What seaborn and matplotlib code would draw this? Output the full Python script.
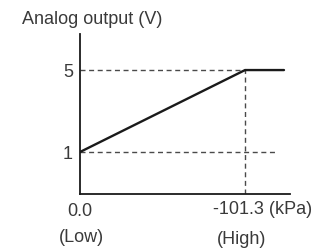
import matplotlib
matplotlib.use("Agg")
import matplotlib.pyplot as plt
import seaborn as sns
import pandas as pd

# valores
pressao_kpa = [0.0, 101.3, 125.2]      # eixo x (magnitude do vácuo)
saida_v = [1, 5, 5]                    # saída analógica
y_ticks = [1, 5]
y_tick_labels = ["1", "5"]
x_low, x_high = 0.0, 101.3
fim_ref_1v = 120.9                     # fim da linha tracejada de 1 V
x_lim = (0, 128.9)
y_lim = (-1.05, 6.76)

sns.set_style("white")
plt.rcParams["font.family"] = ["Liberation Sans", "DejaVu Sans"]
cor_texto = "#3a3a3a"
fs = 13

df = pd.DataFrame({"pressao": pressao_kpa, "saida": saida_v})

fig = plt.figure(figsize=(3.15, 2.52), dpi=100)
ax = fig.add_axes([80 / 315, 1 - 194 / 252, 210 / 315, 160 / 252])

# linhas tracejadas de referência
traco = dict(color="#4a4a4a", linewidth=1.0, linestyle=(0, (3.6, 2.6)))
ax.plot([x_low, x_high], [5, 5], **traco)
ax.plot([x_low, fim_ref_1v], [1, 1], **traco)
ax.plot([x_high, x_high], [y_lim[0], 5], **traco)

# curva característica
sns.lineplot(data=df, x="pressao", y="saida", color="#1a1a1a", linewidth=1.7, ax=ax)

ax.set_xlim(*x_lim)
ax.set_ylim(*y_lim)
for s in ["top", "right"]:
    ax.spines[s].set_visible(False)
for s in ["left", "bottom"]:
    ax.spines[s].set_linewidth(1.3)
    ax.spines[s].set_color("#1a1a1a")

ax.set_xlabel("")
ax.set_ylabel("")
ax.set_xticks([])
ax.set_yticks(y_ticks)
ax.set_yticklabels(y_tick_labels, fontsize=fs, color=cor_texto)
ax.tick_params(axis="y", length=0, pad=5)

# rótulos do eixo x
pos = dict(xycoords=("data", "axes fraction"), textcoords="offset pixels",
           fontsize=fs, color=cor_texto, va="center")
ax.annotate("0.0", xy=(x_low, 0), xytext=(0, -17), ha="center", **pos)
ax.annotate("(Low)", xy=(x_low, 0), xytext=(1, -44), ha="center", **pos)
ax.annotate("-101.3 (kPa)", xy=(x_high, 0), xytext=(-32, -16), ha="left", **pos)
ax.annotate("(High)", xy=(x_high, 0), xytext=(-3, -45), ha="center", **pos)

fig.text(22 / 315, 1 - 19 / 252, "Analog output (V)", fontsize=fs,
         color=cor_texto, va="center", ha="left")

fig.savefig("out.png", dpi=100)
plt.close()
